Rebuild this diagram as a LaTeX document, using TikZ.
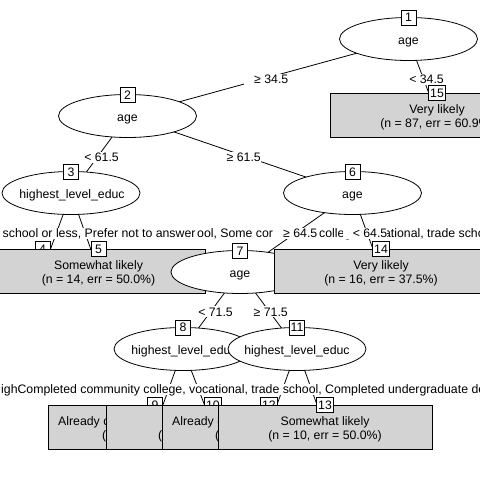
\documentclass[tikz,border=0pt]{standalone}
\usepackage{fontspec}
\setmainfont{Liberation Sans}
\usetikzlibrary{shapes.geometric}
\pgfdeclarelayer{bgpaper}
\pgfdeclarelayer{edges}
\pgfsetlayers{bgpaper,edges,main}
\definecolor{termgrey}{RGB}{211,211,211}
\tikzset{
  every node/.append style={font=\fontsize{12.3}{14}\selectfont},
  innernode/.style={ellipse, draw, fill=white, line width=0.8pt, minimum width=138pt, minimum height=43pt, inner sep=0pt},
  termnode/.style={rectangle, draw, fill=termgrey, line width=0.8pt, minimum width=214pt, minimum height=44pt, inner sep=0pt},
  idbox/.style={rectangle, draw, fill=white, line width=0.8pt, minimum height=15pt, minimum width=15pt, inner xsep=1.5pt, inner ysep=0pt, text height=8.8pt, text depth=0pt},
  nodetext/.style={inner sep=0pt, anchor=base},
  lefttext/.style={inner sep=0pt, anchor=base west},
  splitlab/.style={fill=white, inner sep=0pt, text height=10pt, text depth=1pt, anchor=base east},
  labband/.style={fill=white, inner sep=0pt, text height=10pt, text depth=1pt, anchor=base west},
  conn/.style={line width=0.8pt},
}
\newcommand{\padl}{\hspace*{10pt}}
\begin{document}
\begin{tikzpicture}[x=1pt,y=-1pt]
\useasboundingbox (0,0) rectangle (480,480);
\begin{pgfonlayer}{bgpaper}
\fill[white] (0,0) rectangle (480,480);
\end{pgfonlayer}
\clip (0,0) rectangle (480,480);

% node 1
\node[innernode] (n1) at (408.5,39) {};
\node[nodetext] (t1) at (408.5,44) {age};
\node[idbox] (id1) at (408.5,17.5) {1};
% node 2
\node[innernode] (n2) at (127.5,116) {};
\node[nodetext] (t2) at (127.5,121) {age};
\node[idbox] (id2) at (127.5,95) {2};
% node 3
\node[innernode] (n3) at (71,193) {};
\node[nodetext] (t3) at (72,198) {highest\_level\_educ};
\node[idbox] (id3) at (71,172) {3};
% node 4
\node[termnode] (n4) at (42.5,271) {};
\node[idbox] (id4) at (42.5,249) {4};
% node 5
\node[termnode] (n5) at (98.5,271) {};
\node[nodetext] (t5a) at (98.5,269.5) {Somewhat likely};
\node[nodetext] (t5b) at (98.5,283.5) {(n = 14, err = 50.0\%)};
\node[idbox] (id5) at (98.5,249) {5};
% node 6
\node[innernode] (n6) at (352.5,193) {};
\node[nodetext] (t6) at (352.5,198) {age};
\node[idbox] (id6) at (352.5,172) {6};
% node 7
\node[innernode] (n7) at (240,272) {};
\node[nodetext] (t7) at (240,277) {age};
\node[idbox] (id7) at (240,251) {7};
% node 8
\node[innernode] (n8) at (183,349) {};
\node[nodetext] (t8) at (184,354) {highest\_level\_educ};
\node[idbox] (id8) at (183,327.5) {8};
% node 9
\node[termnode] (n9) at (155,427) {};
\node[lefttext] (t9a) at (58,425.5) {Already co};
\node[lefttext] (t9b) at (102,439.5) {(};
\node[idbox] (id9) at (155,405) {9};
% node 10
\node[termnode] (n10) at (213,427) {};
\node[lefttext] (t10b) at (158,439.5) {(};
\node[idbox] (id10) at (213,405) {10};
% node 11
\node[innernode] (n11) at (297,349) {};
\node[nodetext] (t11) at (297,354) {highest\_level\_educ};
\node[idbox] (id11) at (297,327.5) {11};
% node 12
\node[termnode] (n12) at (269,427) {};
\node[lefttext] (t12a) at (172,425.5) {Already co};
\node[lefttext] (t12b) at (215,439.5) {(};
\node[idbox] (id12) at (269,405) {12};
% node 13
\node[termnode] (n13) at (325,427) {};
\node[nodetext] (t13a) at (325,425.5) {Somewhat likely};
\node[nodetext] (t13b) at (325,439.5) {(n = 10, err = 50.0\%)};
\node[idbox] (id13) at (325,405) {13};
% node 14
\node[termnode] (n14) at (381,271) {};
\node[nodetext] (t14a) at (381,269.5) {Very likely};
\node[nodetext] (t14b) at (381,283.5) {(n = 16, err = 37.5\%)};
\node[idbox] (id14) at (381,249) {14};
% node 15
\node[termnode] (n15) at (437,115) {};
\node[nodetext] (t15a) at (437,113.5) {Very likely};
\node[nodetext] (t15b) at (437,127.5) {(n = 87, err = 60.9\%)};
\node[idbox] (id15) at (437,93) {15};

% connectors
\begin{pgfonlayer}{edges}
\draw[conn] (n1.center) -- (n2.center);
\draw[conn] (n1.center) -- (n15.center);
\draw[conn] (n2.center) -- (n3.center);
\draw[conn] (n2.center) -- (n6.center);
\draw[conn] (n3.center) -- (n4.center);
\draw[conn] (n3.center) -- (n5.center);
\draw[conn] (n6.center) -- (n7.center);
\draw[conn] (n6.center) -- (n14.center);
\draw[conn] (n7.center) -- (n8.center);
\draw[conn] (n7.center) -- (n11.center);
\draw[conn] (n8.center) -- (n9.center);
\draw[conn] (n8.center) -- (n10.center);
\draw[conn] (n11.center) -- (n12.center);
\draw[conn] (n11.center) -- (n13.center);
\end{pgfonlayer}

% edge labels
\node[splitlab] (e12) at (288.5,83.5) {\padl≥ 34.5};
\node[splitlab] (e115) at (444,83.5) {\padl< 34.5};
\node[splitlab] (e23) at (119,161.5) {\padl< 61.5};
\node[splitlab] (e26) at (261,161.5) {\padl≥ 61.5};
\node[labband] (f1) at (2.5,237.5) {school or less, Prefer not to answer};
\node[labband] (f2) at (197,237.5) {ool, Some cor};
\node[labband] (f3) at (319,237.5) {college, vocational, trade school, Completed undergraduate degree};
\node[splitlab] (e67) at (317.5,237.5) {\padl≥ 64.5};
\node[splitlab] (e614) at (387.5,237.5) {\padl< 64.5};
\node[splitlab] (e78) at (233,316) {\padl< 71.5};
\node[splitlab] (e711) at (288,316) {\padl≥ 71.5};
\node[labband] (f5) at (1,393.5) {ighCompleted community college, vocational, trade school, Completed undergraduate degree};
\end{tikzpicture}
\end{document}
